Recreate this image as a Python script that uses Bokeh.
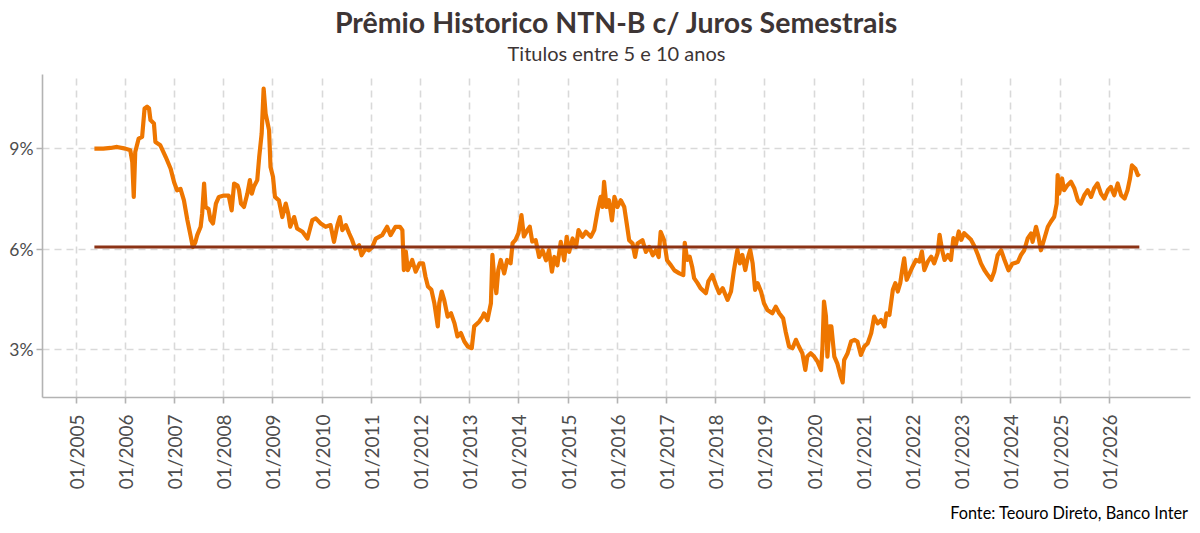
import math
from bokeh.plotting import figure
from bokeh.models import FixedTicker, Range1d, Title
from bokeh.embed import file_html
from bokeh.resources import INLINE

# ---- data (decimal year, premium in %) ----
datas = [
    2005.37, 2005.55, 2005.70, 2005.83, 2006.00, 2006.10, 2006.14, 2006.17, 2006.20, 2006.27,
    2006.34, 2006.39, 2006.44, 2006.48, 2006.51, 2006.58, 2006.61, 2006.71, 2006.82, 2006.92,
    2006.99, 2007.05, 2007.12, 2007.19, 2007.26, 2007.33, 2007.37, 2007.42, 2007.46, 2007.53,
    2007.56, 2007.60, 2007.63, 2007.69, 2007.73, 2007.78, 2007.84, 2007.90, 2008.00, 2008.10,
    2008.16, 2008.21, 2008.28, 2008.31, 2008.35, 2008.41, 2008.48, 2008.53, 2008.57, 2008.61,
    2008.68, 2008.72, 2008.77, 2008.81, 2008.85, 2008.88, 2008.92, 2008.95, 2009.00, 2009.04,
    2009.12, 2009.19, 2009.26, 2009.31, 2009.35, 2009.43, 2009.49, 2009.60, 2009.70, 2009.80,
    2009.87, 2009.97, 2010.07, 2010.17, 2010.24, 2010.31, 2010.36, 2010.41, 2010.48, 2010.55,
    2010.61, 2010.67, 2010.75, 2010.80, 2010.88, 2010.95, 2011.02, 2011.09, 2011.22, 2011.32,
    2011.39, 2011.49, 2011.58, 2011.63, 2011.66, 2011.70, 2011.74, 2011.83, 2011.90, 2011.98,
    2012.05, 2012.10, 2012.15, 2012.22, 2012.28, 2012.35, 2012.38, 2012.43, 2012.48, 2012.55,
    2012.62, 2012.69, 2012.75, 2012.82, 2012.89, 2012.96, 2013.04, 2013.09, 2013.19, 2013.26,
    2013.29, 2013.36, 2013.43, 2013.46, 2013.49, 2013.54, 2013.58, 2013.63, 2013.70, 2013.76,
    2013.83, 2013.87, 2013.93, 2013.99, 2014.05, 2014.10, 2014.17, 2014.22, 2014.27, 2014.34,
    2014.41, 2014.48, 2014.55, 2014.61, 2014.67, 2014.72, 2014.78, 2014.85, 2014.92, 2014.97,
    2015.02, 2015.09, 2015.16, 2015.21, 2015.29, 2015.36, 2015.46, 2015.53, 2015.60, 2015.66,
    2015.70, 2015.73, 2015.78, 2015.83, 2015.89, 2015.94, 2016.00, 2016.07, 2016.14, 2016.19,
    2016.24, 2016.31, 2016.36, 2016.41, 2016.51, 2016.58, 2016.65, 2016.72, 2016.78, 2016.84,
    2016.88, 2016.95, 2017.01, 2017.09, 2017.16, 2017.26, 2017.34, 2017.37, 2017.42, 2017.47,
    2017.52, 2017.56, 2017.63, 2017.69, 2017.80, 2017.85, 2017.93, 2018.00, 2018.07, 2018.14,
    2018.24, 2018.31, 2018.37, 2018.44, 2018.49, 2018.54, 2018.60, 2018.64, 2018.70, 2018.75,
    2018.80, 2018.85, 2018.92, 2018.98, 2019.05, 2019.15, 2019.22, 2019.29, 2019.37, 2019.42,
    2019.49, 2019.56, 2019.63, 2019.69, 2019.76, 2019.82, 2019.86, 2019.93, 2020.00, 2020.07,
    2020.14, 2020.17, 2020.20, 2020.24, 2020.27, 2020.31, 2020.35, 2020.41, 2020.47, 2020.54,
    2020.58, 2020.61, 2020.68, 2020.75, 2020.82, 2020.88, 2020.95, 2021.02, 2021.09, 2021.16,
    2021.22, 2021.29, 2021.36, 2021.43, 2021.47, 2021.53, 2021.60, 2021.65, 2021.70, 2021.75,
    2021.79, 2021.83, 2021.88, 2021.94, 2022.00, 2022.07, 2022.14, 2022.19, 2022.24, 2022.31,
    2022.38, 2022.44, 2022.51, 2022.55, 2022.60, 2022.65, 2022.72, 2022.78, 2022.83, 2022.88,
    2022.94, 2022.99, 2023.05, 2023.12, 2023.19, 2023.26, 2023.33, 2023.39, 2023.46, 2023.53,
    2023.60, 2023.66, 2023.73, 2023.80, 2023.86, 2023.95, 2024.03, 2024.14, 2024.20, 2024.27,
    2024.34, 2024.41, 2024.44, 2024.51, 2024.56, 2024.61, 2024.68, 2024.75, 2024.81, 2024.88,
    2024.93, 2024.95, 2024.98, 2025.04, 2025.08, 2025.15, 2025.22, 2025.29, 2025.36, 2025.42,
    2025.49, 2025.56, 2025.63, 2025.69, 2025.76, 2025.83, 2025.90, 2025.97, 2026.03, 2026.10,
    2026.17, 2026.24, 2026.31, 2026.37, 2026.42, 2026.46, 2026.53, 2026.58, 2026.61,
]
premio = [
    9.00, 9.00, 9.02, 9.05, 9.00, 8.95, 8.60, 7.56, 8.90, 9.30,
    9.35, 10.20, 10.25, 10.20, 9.85, 9.75, 9.20, 9.10, 8.75, 8.40,
    8.00, 7.76, 7.80, 7.46, 6.87, 6.37, 6.07, 6.20, 6.42, 6.67,
    7.06, 7.96, 7.26, 7.20, 6.87, 6.77, 7.36, 7.56, 7.60, 7.60,
    7.16, 7.96, 7.90, 7.76, 7.36, 7.26, 7.66, 8.06, 7.66, 7.86,
    8.06, 8.75, 9.45, 10.79, 10.04, 9.84, 9.55, 8.45, 8.16, 7.56,
    7.46, 6.96, 7.36, 7.06, 6.67, 6.96, 6.62, 6.52, 6.32, 6.87,
    6.92, 6.77, 6.67, 6.72, 6.22, 6.72, 6.96, 6.57, 6.72, 6.47,
    6.27, 6.02, 6.12, 5.82, 6.02, 5.97, 6.07, 6.32, 6.42, 6.67,
    6.42, 6.67, 6.67, 6.57, 5.38, 5.93, 5.38, 5.68, 5.33, 5.58,
    5.58, 5.18, 4.89, 4.79, 4.39, 3.70, 4.39, 4.74, 4.49, 3.99,
    4.09, 3.79, 3.40, 3.50, 3.25, 3.10, 3.05, 3.70, 3.84, 3.99,
    4.09, 3.89, 4.39, 5.83, 5.28, 4.69, 5.38, 5.68, 5.28, 5.68,
    5.58, 6.18, 6.28, 6.48, 7.02, 6.38, 6.57, 6.67, 6.23, 6.27,
    5.77, 5.97, 5.67, 5.97, 5.33, 5.77, 5.52, 6.22, 5.67, 6.37,
    5.92, 6.32, 6.07, 6.57, 6.37, 6.52, 6.37, 6.57, 7.16, 7.56,
    7.26, 8.01, 7.26, 7.46, 6.86, 7.56, 7.26, 7.46, 7.26, 6.77,
    6.27, 6.17, 5.77, 6.17, 6.27, 5.92, 6.07, 5.82, 5.97, 5.77,
    6.52, 6.27, 5.67, 5.52, 5.37, 5.28, 5.23, 6.19, 5.68, 5.78,
    5.48, 5.14, 4.99, 4.84, 4.69, 5.04, 5.23, 4.94, 4.69, 4.84,
    4.49, 4.74, 5.38, 5.98, 5.58, 5.83, 5.38, 5.68, 5.98, 5.58,
    4.79, 4.99, 4.74, 4.39, 4.19, 4.09, 4.29, 4.09, 3.94, 3.55,
    3.10, 3.05, 3.30, 3.10, 2.90, 2.40, 2.80, 2.90, 2.80, 2.65,
    2.40, 3.10, 4.44, 4.00, 2.80, 3.70, 3.70, 2.80, 2.60, 2.21,
    2.03, 2.70, 2.90, 3.25, 3.30, 3.25, 2.85, 3.10, 3.20, 3.50,
    3.99, 3.79, 3.89, 3.70, 4.09, 4.04, 4.79, 4.99, 4.74, 4.99,
    5.38, 5.73, 5.09, 5.28, 5.48, 5.68, 5.63, 5.93, 5.38, 5.63,
    5.78, 5.58, 5.88, 6.43, 5.98, 5.68, 5.83, 5.68, 6.33, 6.13,
    6.53, 6.28, 6.48, 6.38, 6.28, 6.08, 5.83, 5.58, 5.38, 5.23,
    5.09, 5.33, 5.82, 5.97, 5.72, 5.37, 5.57, 5.62, 5.82, 5.97,
    6.32, 6.47, 6.22, 6.67, 6.37, 5.97, 6.32, 6.67, 6.82, 6.97,
    7.36, 8.21, 7.66, 8.11, 7.76, 7.91, 8.01, 7.81, 7.46, 7.36,
    7.61, 7.76, 7.56, 7.81, 7.96, 7.66, 7.51, 7.76, 7.86, 7.61,
    7.96, 7.61, 7.51, 7.76, 8.11, 8.50, 8.40, 8.21, 8.26,
]
media = 6.07

anos_ticks = list(range(2005, 2027))
rotulos_x = ["01/%d" % a for a in anos_ticks]
ticks_y = [3, 6, 9]
rotulos_y = ["3%", "6%", "9%"]

titulo = "Prêmio Historico NTN-B c/ Juros Semestrais"
subtitulo = "Titulos entre 5 e 10 anos"
fonte = "Fonte: Teouro Direto, Banco Inter"

FONT = "Lato"

p = figure(width=1192, height=533, output_backend="svg", toolbar_location=None,
           x_range=Range1d(2004.315, 2027.65), y_range=Range1d(1.58, 11.21),
           min_border_left=42, min_border_right=2, min_border_top=74, min_border_bottom=136)
p.outline_line_color = None
p.background_fill_color = "white"
p.border_fill_color = "white"

# grids
for g in (p.xgrid, p.ygrid):
    g.grid_line_color = "#d9d9d9"
    g.grid_line_width = 1.6
    g.grid_line_dash = "7 5"
p.xgrid.ticker = FixedTicker(ticks=anos_ticks)
p.ygrid.ticker = FixedTicker(ticks=ticks_y)

# axes
p.xaxis.ticker = FixedTicker(ticks=anos_ticks)
p.xaxis.major_label_overrides = {a: r for a, r in zip(anos_ticks, rotulos_x)}
p.xaxis.major_label_orientation = math.pi / 2
p.yaxis.ticker = FixedTicker(ticks=ticks_y)
p.yaxis.major_label_overrides = {t: r for t, r in zip(ticks_y, rotulos_y)}
for ax in (p.xaxis, p.yaxis):
    ax.axis_line_color = "#b3b3b3"
    ax.axis_line_width = 1.6
    ax.major_tick_line_color = "#b3b3b3"
    ax.major_tick_line_width = 1.6
    ax.major_tick_in = 0
    ax.major_tick_out = 6
    ax.minor_tick_line_color = None
    ax.major_label_text_font = FONT
    ax.major_label_text_color = "#4d4d4d"
p.xaxis.major_label_text_font_size = "19px"
p.yaxis.major_label_text_font_size = "17.5px"
p.xaxis.major_label_standoff = 11
p.yaxis.major_label_standoff = 3

# series
p.line(datas, premio, line_color="#EE7600", line_width=4.2, line_join="round")
p.line([datas[0], datas[-1]], [media, media], line_color="#8B3316", line_width=3)

# titles (first added "above" sits nearest the frame)
p.add_layout(Title(text=subtitulo, align="center", vertical_align="bottom", standoff=19,
                   text_font=FONT, text_font_style="normal", text_font_size="20px",
                   text_color="#3d3535"), "above")
p.add_layout(Title(text=titulo, align="center", vertical_align="bottom", standoff=-18,
                   text_font=FONT, text_font_style="bold", text_font_size="28.5px",
                   text_color="#3d3535"), "above")
p.add_layout(Title(text=fonte, align="right", vertical_align="bottom", standoff=16, offset=2,
                   text_font=FONT, text_font_style="normal", text_font_size="16.3px",
                   text_color="#000000"), "below")

open("out.html", "w").write(file_html(p, INLINE))
